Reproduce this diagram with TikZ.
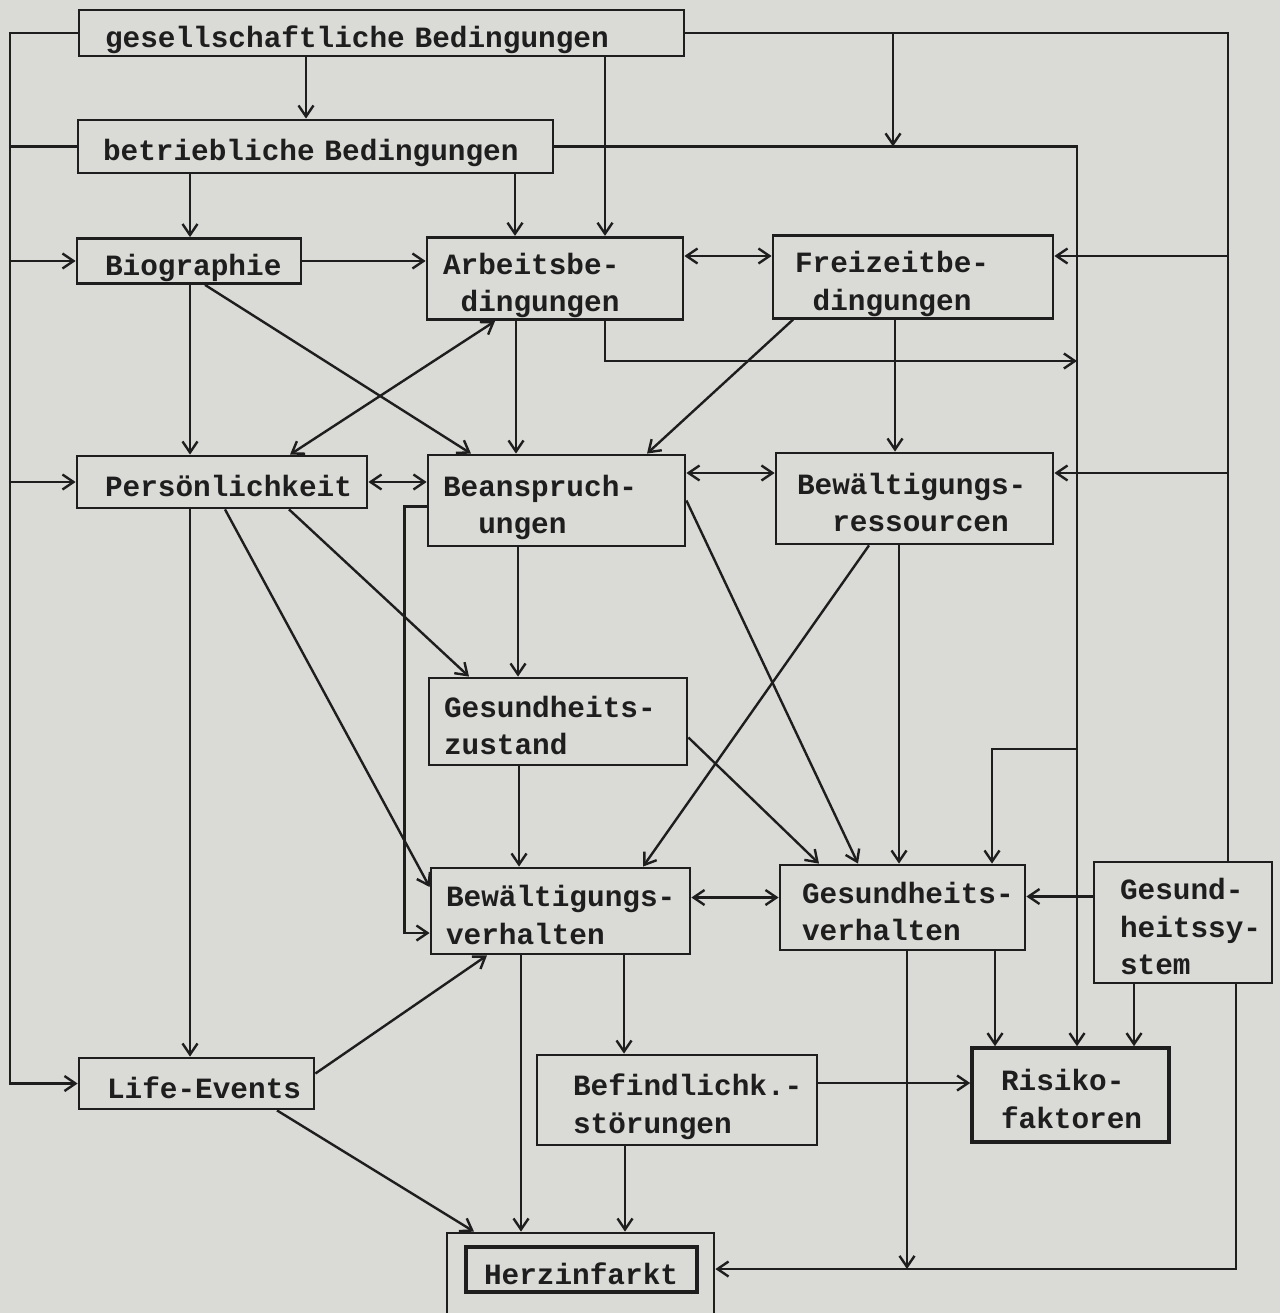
\documentclass[tikz,border=0pt]{standalone}
\usepackage{fontspec}
\newfontfamily\typewriter{Liberation Mono}
\usetikzlibrary{arrows.meta}
\definecolor{paper}{RGB}{218,218,215}
\definecolor{ink}{RGB}{30,30,30}
\hyphenpenalty=10000
\exhyphenpenalty=10000

\tikzset{
  box/.style={draw=ink,line width=2.8pt,align=left,inner ysep=0pt,text=ink,
    font=\typewriter\bfseries\fontsize{29.4}{37.5}\selectfont,
    execute at begin node={\rule{0pt}{37pt}},
    execute at end node={\rule[-8pt]{0pt}{8pt}}},
  link/.style={draw=ink,line width=2.4pt},
  >={Straight Barb[length=11pt,width=15pt]}
}

\begin{document}
\begin{tikzpicture}[x=1pt,y=-1pt]
  \useasboundingbox (0,0) rectangle (1280,1313);
  \fill[paper] (0,0) rectangle (1280,1313);

  \node [box,text width=553pt,inner xsep=26pt,minimum height=46pt] (gesell) at (381.5,33) {gesellschaftliche Bedingungen};
  \node [box,text width=425pt,inner xsep=25pt,minimum height=53pt] (betrieb) at (315.5,146.5) {betriebliche Bedingungen};
  \node [box,text width=168pt,inner xsep=28pt,minimum height=44pt] (bio) at (189,261) {Biographie};
  \node [box,text width=224pt,inner xsep=16pt,minimum height=79pt] (arbeit) at (555,278.5) {Arbeitsbe-\\\phantom{x}dingungen};
  \node [box,text width=236pt,inner xsep=22pt,minimum height=80pt] (freizeit) at (913,277) {Freizeitbe-\\\phantom{x}dingungen};
  \node [box,text width=234pt,inner xsep=28pt,minimum height=52pt] (persoen) at (222,482) {Persönlichkeit};
  \node [box,text width=227pt,inner xsep=15pt,minimum height=91pt] (beansp) at (556.5,500.5) {Beanspruch-\\\phantom{xx}ungen};
  \node [box,text width=235pt,inner xsep=21pt,minimum height=91pt] (bewres) at (914.5,498.5) {Bewältigungs-\\\phantom{xx}ressourcen};
  \node [box,text width=228pt,inner xsep=15pt,minimum height=87pt] (gz) at (558,721.5) {Gesundheits-\\zustand};
  \node [box,text width=229pt,inner xsep=15pt,minimum height=86pt] (bewv) at (560.5,911) {Bewältigungs-\\verhalten};
  \node [box,text width=201pt,inner xsep=22pt,minimum height=85pt] (gv) at (902.5,907.5) {Gesundheits-\\verhalten};
  \node [box,text width=126pt,inner xsep=26pt,minimum height=121pt] (gss) at (1183,922.5) {Gesund-\\heitssy-\\stem};
  \node [box,text width=179pt,inner xsep=28pt,minimum height=51pt] (life) at (196.5,1083.5) {Life-Events};
  \node [box,text width=208pt,inner xsep=36pt,minimum height=90pt] (befind) at (677,1100) {Befindlichk.-\\störungen};
  \node [box,line width=3.6pt,text width=139pt,inner xsep=29pt,minimum height=94pt] (risiko) at (1070.5,1095) {Risiko-\\faktoren};
  \node [box,minimum width=267pt,minimum height=114pt] (herz) at (580.5,1290) {};
  \node [box,line width=3.2pt,text width=195pt,inner xsep=18pt,minimum height=45pt] (herzin) at (581.5,1269.5) {Herzinfarkt};

  % left bus
  \coordinate (busT) at (10,33);
  \draw[link,->] (gesell.west) -- (busT) |- (life.west);
  \draw[link] (betrieb.west) -- (betrieb.west -| busT);
  \draw[link,->] (bio.west -| busT) -- (bio.west);
  \draw[link,->] (persoen.west -| busT) -- (persoen.west);

  % right bus
  \coordinate (rtT) at (1228,33);
  \coordinate (rtF) at (1228,256);
  \coordinate (rtB) at (1228,473);
  \draw[link] (gesell.east) -- (rtT) -- (rtT |- gss.north);
  \draw[link,->] (rtF) -- (rtF -| freizeit.east);
  \draw[link,->] (rtB) -- (rtB -| bewres.east);
  \draw[link,->] (893,0 |- rtT) -- (893,0 |- betrieb.east);

  % middle line
  \coordinate (midT) at (1077,146.5);
  \coordinate (midA) at (1077,361);
  \coordinate (midG) at (1077,749);
  \draw[link,->] (betrieb.east) -- (midT) -- (midT |- risiko.north);
  \draw[link,->] (605,0 |- arbeit.south) |- (midA);
  \draw[link,->] (midG) -| (992,0 |- gv.north);

  \foreach \x/\from/\to in {306/gesell/betrieb,605/gesell/arbeit,190/betrieb/bio,515/betrieb/arbeit,
      190/bio/persoen,516/arbeit/beansp,895/freizeit/bewres,190/persoen/life,518/beansp/gz,
      899/bewres/gv,519/gz/bewv,521/bewv/herz,624/bewv/befind,625/befind/herz,995/gv/risiko,1134/gss/risiko}
    \draw[link,->] (\x,0 |- \from.south) -- (\x,0 |- \to.north);

  \foreach \a/\from/\b/\to in {205/bio/471/beansp,793/freizeit/647/beansp,289/persoen/469/gz,
      869/bewres/643/bewv,277/life/474/herz}
    \draw[link,->] (\a,0 |- \from.south) -- (\b,0 |- \to.north);

  \draw[link,->] (bio.east) -- (bio.east -| arbeit.west);
  \draw[link,<->] (arbeit.east |- rtF) -- (freizeit.west |- rtF);
  \draw[link,<->] (290,0 |- persoen.north) -- (495,0 |- arbeit.south);
  \draw[link,<->] (persoen.east) -- (persoen.east -| beansp.west);
  \draw[link,<->] (beansp.east |- rtB) -- (bewres.west |- rtB);
  \draw[link,->] ([yshift=-6pt]beansp.west) -- ++(-22,0) |- ([yshift=-22pt]bewv.west);
  \draw[link,->] (225,0 |- persoen.south) -- ([yshift=24pt]bewv.west);
  \draw[link,->] (beansp.east) -- (858,0 |- gv.north);
  \draw[link,->] ([yshift=-16pt]gz.east) -- (819,0 |- gv.north);
  \draw[link,<->] ([yshift=10pt]gv.west -| bewv.east) -- ([yshift=10pt]gv.west);
  \draw[link,->] ([yshift=26pt]gss.west) -- ([yshift=26pt]gss.west -| gv.east);
  \draw[link,->] ([yshift=10pt]life.east) -- (487,0 |- bewv.south);
  \draw[link,->] ([yshift=17pt]befind.east) -- ([yshift=17pt]befind.east -| risiko.west);

  % bottom line to Herzinfarkt
  \coordinate (botR) at (1236,1269);
  \coordinate (botG) at (907,1269);
  \draw[link,->] (1236,0 |- gss.south) -- (botR) -- (botR -| herz.east);
  \draw[link,->] (907,0 |- gv.south) -- (botG);
\end{tikzpicture}
\end{document}
